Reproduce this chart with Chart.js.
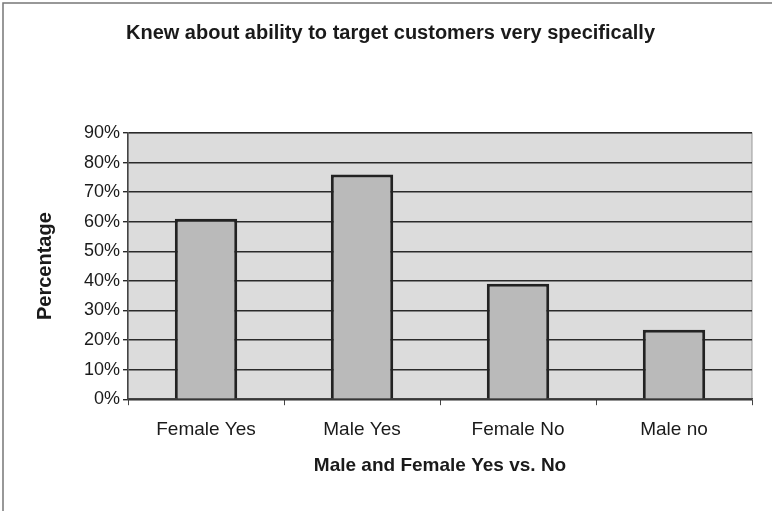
<!DOCTYPE html>
<html>
<head>
<meta charset="utf-8">
<script src="https://cdn.jsdelivr.net/npm/chart.js@4.4.0/dist/chart.umd.min.js"></script>
<style>
  body { margin: 0; background: #fff; }
  #wrap { width: 772px; height: 511px; }
</style>
</head>
<body>
<div id="wrap"><canvas id="grafico" width="772" height="511"></canvas></div>
<script>
var categorias = ['Female Yes', 'Male Yes', 'Female No', 'Male no'];
var valores = [61, 76, 39, 23.5];
var titulo = 'Knew about ability to target customers very specifically';

// moldura e fundo da area do grafico
var fundoPlugin = {
    id: 'fundo',
    beforeDraw: function (chart) {
        var ctx = chart.ctx;
        var a = chart.chartArea;
        ctx.save();
        ctx.strokeStyle = '#777';
        ctx.lineWidth = 1.5;
        ctx.beginPath();
        ctx.moveTo(3, 511);
        ctx.lineTo(3, 3);
        ctx.lineTo(772, 3);
        ctx.stroke();
        ctx.fillStyle = '#dcdcdc';
        ctx.fillRect(a.left, a.top, a.right - a.left, a.bottom - a.top);
        ctx.strokeStyle = '#999';
        ctx.lineWidth = 1;
        ctx.strokeRect(a.left, a.top, a.right - a.left, a.bottom - a.top);
        ctx.restore();
    }
};

new Chart(document.getElementById('grafico'), {
    type: 'bar',
    data: {
        labels: categorias,
        datasets: [{
            label: 'Percentage',
            data: valores,
            backgroundColor: '#bababa',
            borderColor: '#222',
            borderWidth: 3,
            categoryPercentage: 0.8,
            barPercentage: 0.5
        }]
    },
    options: {
        responsive: false,
        animation: false,
        layout: { padding: { left: 29, right: 20, top: 0, bottom: 30 } },
        plugins: {
            legend: { display: false },
            tooltip: { enabled: false },
            title: {
                display: true,
                text: titulo,
                color: '#1a1a1a',
                font: { family: 'Liberation Sans', size: 20, weight: 'bold' },
                padding: { top: 21, bottom: 88 }
            }
        },
        scales: {
            x: {
                grid: { display: true, drawOnChartArea: false, drawTicks: true, tickLength: 6, color: '#444' },
                border: { color: '#444', width: 1.5 },
                ticks: { color: '#1a1a1a', font: { family: 'Liberation Sans', size: 19, lineHeight: 1.0 }, padding: 15 },
                title: {
                    display: true,
                    text: 'Male and Female Yes vs. No',
                    color: '#1a1a1a',
                    font: { family: 'Liberation Sans', size: 19, weight: 'bold' },
                    padding: { top: 0, bottom: 4 }
                }
            },
            y: {
                min: 0,
                max: 90,
                ticks: {
                    stepSize: 10,
                    color: '#1a1a1a',
                    font: { family: 'Liberation Sans', size: 18 },
                    padding: 3,
                    callback: function (v) { return v + '%'; }
                },
                grid: { color: '#2a2a2a', lineWidth: 1.4, tickLength: 5, drawTicks: true },
                border: { color: '#444', width: 1.5 },
                title: {
                    display: true,
                    text: 'Percentage',
                    color: '#1a1a1a',
                    font: { family: 'Liberation Sans', size: 20, weight: 'bold' },
                    padding: { top: 4, bottom: 24 }
                }
            }
        }
    },
    plugins: [fundoPlugin]
});
</script>
</body>
</html>
